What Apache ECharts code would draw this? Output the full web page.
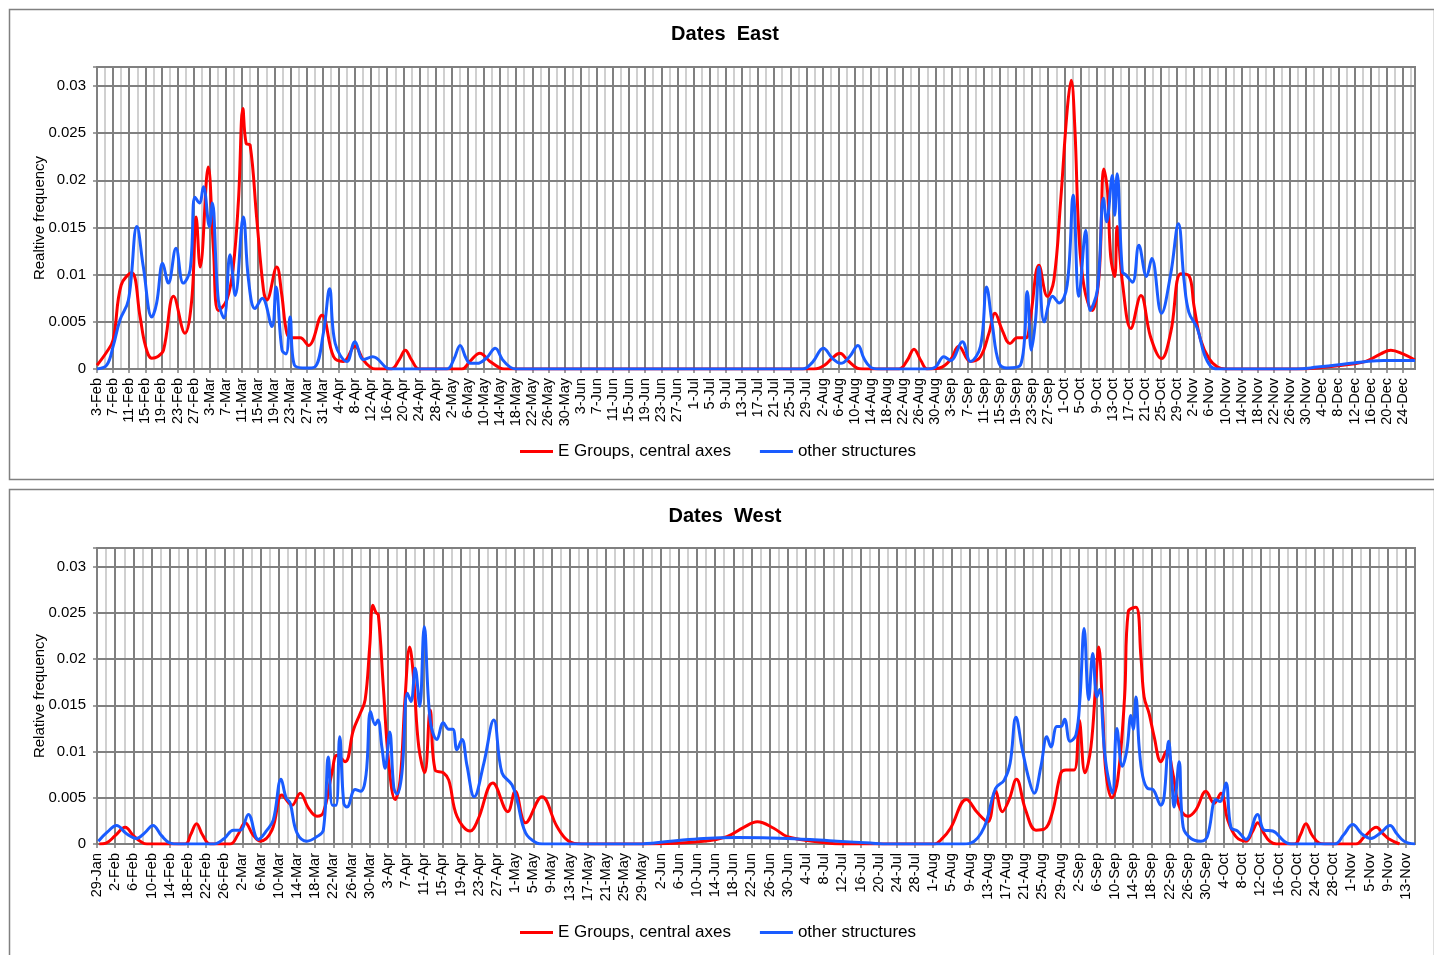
<!DOCTYPE html>
<html>
<head>
<meta charset="utf-8">
<script src="https://cdn.jsdelivr.net/npm/echarts@6/dist/echarts.min.js"></script>
<style>
html,body{margin:0;padding:0;background:#fff;}
#chart{width:1434px;height:955px;}
</style>
</head>
<body>
<div id="chart"></div>
<script>
// ---- Tick labels (every 4 days) ----
const eastTickLabels = ['3-Feb','7-Feb','11-Feb','15-Feb','19-Feb','23-Feb','27-Feb','3-Mar','7-Mar','11-Mar','15-Mar','19-Mar','23-Mar','27-Mar','31-Mar','4-Apr','8-Apr','12-Apr','16-Apr','20-Apr','24-Apr','28-Apr','2-May','6-May','10-May','14-May','18-May','22-May','26-May','30-May','3-Jun','7-Jun','11-Jun','15-Jun','19-Jun','23-Jun','27-Jun','1-Jul','5-Jul','9-Jul','13-Jul','17-Jul','21-Jul','25-Jul','29-Jul','2-Aug','6-Aug','10-Aug','14-Aug','18-Aug','22-Aug','26-Aug','30-Aug','3-Sep','7-Sep','11-Sep','15-Sep','19-Sep','23-Sep','27-Sep','1-Oct','5-Oct','9-Oct','13-Oct','17-Oct','21-Oct','25-Oct','29-Oct','2-Nov','6-Nov','10-Nov','14-Nov','18-Nov','22-Nov','26-Nov','30-Nov','4-Dec','8-Dec','12-Dec','16-Dec','20-Dec','24-Dec'];
const westTickLabels = ['29-Jan','2-Feb','6-Feb','10-Feb','14-Feb','18-Feb','22-Feb','26-Feb','2-Mar','6-Mar','10-Mar','14-Mar','18-Mar','22-Mar','26-Mar','30-Mar','3-Apr','7-Apr','11-Apr','15-Apr','19-Apr','23-Apr','27-Apr','1-May','5-May','9-May','13-May','17-May','21-May','25-May','29-May','2-Jun','6-Jun','10-Jun','14-Jun','18-Jun','22-Jun','26-Jun','30-Jun','4-Jul','8-Jul','12-Jul','16-Jul','20-Jul','24-Jul','28-Jul','1-Aug','5-Aug','9-Aug','13-Aug','17-Aug','21-Aug','25-Aug','29-Aug','2-Sep','6-Sep','10-Sep','14-Sep','18-Sep','22-Sep','26-Sep','30-Sep','4-Oct','8-Oct','12-Oct','16-Oct','20-Oct','24-Oct','28-Oct','1-Nov','5-Nov','9-Nov','13-Nov'];
const eastDayCount = 327;   // days after 3-Feb shown on the axis
const westDayCount = 290;   // days after 29-Jan shown on the axis
const seriesNames = ['E Groups, central axes', 'other structures'];

// ---- Series values: [day offset, relative frequency] ----
const eastGroups = [[0,0.0004],[2.4,0.0018],[4,0.0031],[6,0.0089],[8.6,0.0102],[10.7,0.0055],[12,0.0025],[13.6,0.00115],[15,0.0013],[16.5,0.002],[19,0.0077],[21.8,0.0038],[23.5,0.0073],[24.6,0.0161],[25.6,0.0108],[27.6,0.0214],[28.9,0.0126],[30.1,0.0062],[32.2,0.0073],[33.8,0.0108],[35.1,0.0179],[36.2,0.0276],[37,0.0239],[38,0.0237],[39.6,0.0161],[41.3,0.0084],[42.1,0.0073],[44.6,0.0108],[45.8,0.008],[47.1,0.0038],[48.3,0.0033],[50.4,0.0033],[52.5,0.0025],[55.8,0.0057],[58.7,0.0013],[61.1,0.0008],[64,0.0024],[66,0.001],[67.8,0.0002],[69,0],[73,0],[75,0.001],[76.5,0.002],[78,0.001],[80,0],[90.5,0],[92.5,0.0008],[95,0.00168],[97.5,0.0008],[100,0.0001],[101,0],[178,0],[180.5,0.0004],[182.5,0.0012],[184.3,0.00166],[186.3,0.0009],[188.6,0.0001],[190,0],[199,0],[201,0.0009],[202.7,0.0021],[204.4,0.0009],[206,0],[209,0.0001],[211.8,0.001],[213.8,0.0024],[216.7,0.0008],[219.2,0.0013],[221.3,0.0038],[222.8,0.0059],[224.6,0.0041],[226.5,0.0027],[228.3,0.0033],[230.4,0.0033],[231.6,0.0055],[233.7,0.011],[235.8,0.0077],[237.4,0.0094],[239.1,0.0179],[240.7,0.0274],[241.7,0.0306],[242.6,0.0256],[243.6,0.0144],[244.9,0.0087],[246.9,0.0062],[248.6,0.0098],[249.8,0.0212],[250.7,0.0189],[251.5,0.0119],[252.5,0.0098],[253.1,0.0151],[254.4,0.0092],[256.5,0.0043],[259,0.0078],[261.4,0.0034],[264.1,0.0011],[266.4,0.0039],[268.9,0.0101],[270.9,0.0099],[272.2,0.0066],[273.8,0.0031],[275.9,0.0011],[278,0.0002],[280,0],[298,0],[305,0.0002],[311,0.0005],[314.8,0.0008],[318.5,0.0016],[321,0.002],[324,0.0016],[327,0.00095]];
const eastOther = [[0,0],[2.4,0.0004],[4,0.0024],[5.7,0.0052],[7.8,0.0073],[9.9,0.0151],[11.5,0.0108],[13.6,0.0055],[14.8,0.007],[16.3,0.0112],[17.7,0.0091],[19.6,0.0128],[21.4,0.0091],[23.1,0.0105],[24.3,0.0182],[25.4,0.0176],[26.4,0.0193],[27.9,0.0151],[28.6,0.0176],[30.1,0.0073],[31.5,0.0054],[33,0.0121],[34.3,0.0078],[36.3,0.0161],[37.6,0.0094],[39.2,0.0064],[41,0.0075],[43.4,0.0045],[44.4,0.0087],[45.9,0.002],[46.9,0.0016],[47.9,0.0055],[49,0.0004],[52,0.0001],[54,0.0002],[56.2,0.0039],[57.7,0.0085],[59.1,0.0027],[62,0.0008],[64,0.0029],[66.1,0.001],[68.4,0.0013],[71.9,0.0001],[73,0],[86.8,0],[88.5,0.001],[90.1,0.0025],[91.5,0.0012],[92.6,0.0006],[94.3,0.0006],[96.7,0.0012],[98.8,0.0022],[100.6,0.001],[102.5,0.0002],[104,0],[175,0],[177.5,0.0007],[180.2,0.0022],[182.5,0.0011],[184.5,0.0006],[186.7,0.0013],[188.8,0.0025],[190.3,0.0011],[191.9,0.0002],[194,0],[206,0],[208,0.0002],[210.1,0.0013],[211.8,0.0009],[214.7,0.0029],[216.7,0.0008],[219.2,0.0024],[220.7,0.0087],[222.1,0.0048],[223.8,0.0006],[225.8,0.0001],[229.1,0.0004],[230.8,0.0082],[231.8,0.002],[232.9,0.0054],[233.7,0.0108],[235,0.005],[237.1,0.0077],[238.7,0.007],[240.7,0.0089],[242.2,0.0184],[243.6,0.0077],[245.3,0.0147],[246.4,0.0062],[248.2,0.0084],[249.7,0.0181],[250.5,0.0156],[251.9,0.0205],[252.5,0.0163],[253.1,0.0207],[254.4,0.0103],[255.2,0.01],[256.9,0.0092],[258.5,0.0131],[260.4,0.0098],[261.7,0.0117],[264.1,0.0059],[266.4,0.0101],[268.3,0.0154],[269.7,0.0094],[270.9,0.006],[273,0.0043],[274.7,0.0016],[276.3,0.0003],[278,0],[297.5,0],[302.8,0.0002],[311.1,0.0006],[315,0.0008],[319.3,0.0009],[327,0.0009]];
const westGroups = [[0.5,0],[2,0.0001],[4,0.0009],[6.2,0.0018],[8,0.0009],[9.5,0.0003],[11,0],[19.4,0],[20.6,0.001],[21.9,0.0022],[23.2,0.001],[24.9,0],[29.3,0],[31,0.001],[32.6,0.0023],[34.3,0.001],[35.9,0.0003],[38.5,0.0015],[40.7,0.0053],[42.9,0.0042],[44.7,0.0055],[46.5,0.0039],[48.4,0.003],[49.8,0.0034],[51.7,0.0077],[52.8,0.0096],[54.6,0.0089],[56.4,0.0123],[57.9,0.0141],[59,0.0156],[60,0.0213],[60.7,0.0258],[61.4,0.025],[61.9,0.0248],[63,0.017],[64.2,0.0087],[65.6,0.0048],[66.7,0.0069],[67.8,0.0159],[68.8,0.0213],[69.7,0.0177],[70.8,0.0105],[72.1,0.0077],[73.3,0.0145],[74.4,0.008],[76.2,0.0077],[77.4,0.0069],[79.2,0.003],[82.1,0.0014],[83.8,0.0026],[87.1,0.0066],[90.4,0.0035],[92,0.0057],[94.3,0.0023],[97.9,0.0051],[101.2,0.0019],[103.8,0.0003],[106.7,0],[121,0],[133.5,0.0003],[138.6,0.0008],[142.3,0.0018],[145.3,0.0024],[148.9,0.0017],[151.9,0.0008],[159.2,0.0002],[165,0],[184.2,0],[186,0.0006],[187.8,0.0017],[191.3,0.0048],[193.7,0.0034],[196,0.0024],[197.7,0.0057],[199.2,0.0035],[200.7,0.0048],[202.3,0.007],[204.3,0.0037],[206.6,0.0015],[208.4,0.0016],[210.2,0.0034],[212.1,0.0077],[213.2,0.008],[215,0.008],[216.1,0.0134],[217.4,0.0077],[218.7,0.0105],[219.8,0.0177],[220.4,0.0213],[221.3,0.0141],[222,0.0077],[223.3,0.005],[224.6,0.007],[226.1,0.0159],[226.9,0.0251],[228.6,0.0256],[229.7,0.0202],[230.4,0.0159],[231.5,0.0141],[232.6,0.0116],[234.1,0.0089],[235.4,0.0101],[236.7,0.0077],[238.1,0.0041],[240,0.003],[241.8,0.0037],[244,0.0057],[245.8,0.0044],[247.3,0.0055],[248.8,0.0026],[250.6,0.0008],[252.8,0.0003],[254.2,0.0013],[255.4,0.0023],[256.7,0.0012],[258,0.0003],[259.5,0],[263.5,0],[264.8,0.001],[266,0.0022],[267.3,0.001],[268.9,0.0001],[270,0],[277,0],[278.9,0.0008],[281.5,0.0018],[283,0.0011],[284.1,0.0006],[286.6,0]];
const westOther = [[0.3,0.0003],[2.3,0.0013],[4.3,0.002],[6.5,0.0011],[8.7,0.0006],[10.5,0.0012],[12.3,0.002],[14.2,0.0009],[16.1,0.0001],[18,0],[25.6,0],[28,0.0006],[30,0.0015],[31.5,0.0015],[33.3,0.0032],[35.5,0.0005],[37.4,0.0015],[38.8,0.0026],[40.5,0.007],[41.6,0.005],[42.5,0.0044],[44,0.0012],[46.2,0.0003],[48.4,0.0008],[49.8,0.0015],[50.9,0.0094],[51.8,0.0042],[52.6,0.0042],[53.4,0.0116],[54.3,0.0044],[55,0.004],[56.8,0.0059],[58,0.0057],[59.2,0.0075],[60.2,0.0143],[61.2,0.0129],[61.8,0.0134],[62.7,0.0104],[63.4,0.0082],[64.4,0.0121],[65.3,0.0061],[66,0.0054],[67.1,0.0077],[68.3,0.0163],[69.1,0.0154],[70,0.019],[71,0.0149],[72,0.0235],[73.3,0.0134],[74.8,0.0113],[76.2,0.0131],[77.4,0.0124],[78.3,0.0124],[79.2,0.0102],[80.3,0.0113],[81.4,0.0085],[83,0.0051],[85.1,0.0087],[87.3,0.0134],[89.1,0.0077],[91.3,0.0064],[92.4,0.0048],[94.3,0.0012],[96.8,0.0001],[98,0],[118.9,0],[126.2,0.0003],[133.5,0.0006],[140.9,0.0007],[151.9,0.0006],[162.9,0.0003],[170.2,0.0001],[173,0],[190,0],[192.2,0.0001],[195.2,0.0018],[197.7,0.006],[199.6,0.0069],[200.9,0.0087],[202.2,0.0137],[203.6,0.0102],[205.1,0.0069],[206.2,0.0055],[207.7,0.0084],[209,0.0116],[209.9,0.0105],[211.2,0.0127],[212.1,0.0127],[212.9,0.0135],[214.1,0.0111],[215.4,0.0118],[216.3,0.0159],[217.2,0.0233],[218.2,0.0156],[219.1,0.0206],[220,0.0159],[220.6,0.0167],[221.6,0.0105],[222.3,0.0077],[223.4,0.0055],[224.4,0.0125],[225.6,0.0084],[226.6,0.0102],[227.5,0.0139],[228,0.0124],[228.6,0.0159],[229.3,0.0105],[230.1,0.0073],[231.2,0.006],[232.3,0.0059],[234.1,0.0042],[234.8,0.0051],[235.8,0.0111],[236.5,0.0069],[237,0.004],[238.1,0.0089],[239,0.0018],[240.7,0.0006],[242.9,0.0003],[244.3,0.0008],[246.2,0.0048],[247.1,0.0046],[248.4,0.0066],[249.5,0.0018],[251,0.0014],[252.8,0.0005],[255.4,0.0032],[256.8,0.0015],[258.7,0.0014],[261.2,0.0003],[262.7,0],[272.3,0],[274.3,0.001],[276.3,0.0021],[278.3,0.0011],[280.3,0.0006],[282.4,0.0012],[284.5,0.002],[286,0.0011],[287.6,0.0003],[290,0]];

// ---- Styling ----
const FONT = 'Liberation Sans';
const DARK = '#808080';
const LIGHT = '#c0c0c0';
const RED = '#ff0000';
const BLUE = '#1a5cff';

function xAxesFor(gridIndex, maxDay, labels) {
  return [
    {
      type: 'value', gridIndex: gridIndex, min: 0, max: maxDay, interval: 4, z: 3,
      axisLine: { show: true, onZero: false, lineStyle: { color: DARK, width: 2 } },
      axisTick: { show: true, length: 4, lineStyle: { color: DARK, width: 1.5 } },
      axisLabel: {
        rotate: 90, margin: 9, fontFamily: FONT, fontSize: 14.5, color: '#000',
        showMaxLabel: false,
        formatter: function (v) { const i = Math.round(v / 4); return (v % 4 === 0 && labels[i]) ? labels[i] : ''; }
      },
      splitLine: { show: true, lineStyle: { color: DARK, width: 2 } }
    },
    {
      type: 'value', gridIndex: gridIndex, min: 0, max: maxDay, interval: 2, z: 1,
      position: 'bottom',
      axisLine: { show: false }, axisTick: { show: false }, axisLabel: { show: false },
      splitLine: { show: true, lineStyle: { color: LIGHT, width: 1.5 } }
    }
  ];
}

function yAxisFor(gridIndex, name) {
  return {
    type: 'value', gridIndex: gridIndex, min: 0, max: 0.032, interval: 0.005, z: 2,
    name: name, nameLocation: 'middle', nameGap: 50, nameRotate: 90, nameMoveOverlap: false,
    nameTextStyle: { fontFamily: FONT, fontSize: 15, color: '#000' },
    axisLine: { show: true, lineStyle: { color: DARK, width: 2 } },
    axisTick: { show: true, length: 4, lineStyle: { color: DARK, width: 1.5 } },
    axisLabel: {
      margin: 11, fontFamily: FONT, fontSize: 15, color: '#000',
      formatter: function (v) { return v > 0.0305 ? '' : String(+v.toFixed(3)); }
    },
    splitLine: { show: true, lineStyle: { color: DARK, width: 2 } }
  };
}

function lineSeries(name, data, color, xIdx, yIdx) {
  return {
    name: name, type: 'line', data: data, xAxisIndex: xIdx, yAxisIndex: yIdx,
    smooth: 0.4, showSymbol: false, symbol: 'none', z: 5,
    lineStyle: { color: color, width: 3 }, itemStyle: { color: color },
    emphasis: { disabled: true }
  };
}

const legendBase = {
  data: seriesNames, left: 520, icon: 'rect', itemWidth: 33, itemHeight: 3, itemGap: 29,
  padding: 0, textStyle: { fontFamily: FONT, fontSize: 17, color: '#000' }, selectedMode: false
};

const option = {
  backgroundColor: '#ffffff',
  animation: false,
  title: [
    { text: 'Dates  East', left: 725, top: 24, textAlign: 'center', padding: 0,
      textStyle: { fontFamily: FONT, fontSize: 20, fontWeight: 'bold', color: '#000' } },
    { text: 'Dates  West', left: 725, top: 506, textAlign: 'center', padding: 0,
      textStyle: { fontFamily: FONT, fontSize: 20, fontWeight: 'bold', color: '#000' } }
  ],
  legend: [
    Object.assign({}, legendBase, { top: 443 }),
    Object.assign({}, legendBase, { top: 924 })
  ],
  grid: [
    { left: 97, width: 1318, top: 67, height: 302, show: true, borderColor: DARK, borderWidth: 2, backgroundColor: 'transparent' },
    { left: 97, width: 1318, top: 548, height: 296, show: true, borderColor: DARK, borderWidth: 2, backgroundColor: 'transparent' }
  ],
  xAxis: xAxesFor(0, eastDayCount, eastTickLabels).concat(xAxesFor(1, westDayCount, westTickLabels)),
  yAxis: [yAxisFor(0, 'Realtive frequency'), yAxisFor(1, 'Relative frequency')],
  series: [
    lineSeries(seriesNames[0], eastGroups, RED, 0, 0),
    lineSeries(seriesNames[1], eastOther, BLUE, 0, 0),
    lineSeries(seriesNames[0], westGroups, RED, 2, 1),
    lineSeries(seriesNames[1], westOther, BLUE, 2, 1)
  ],
  graphic: [
    { type: 'rect', left: 7, top: 7, z: -10, silent: true,
      shape: { width: 1425, height: 470 }, style: { fill: 'none', stroke: DARK, lineWidth: 1.5 } },
    { type: 'rect', left: 7, top: 487, z: -10, silent: true,
      shape: { width: 1425, height: 480 }, style: { fill: 'none', stroke: DARK, lineWidth: 1.5 } }
  ]
};

const chart = echarts.init(document.getElementById('chart'), null, { renderer: 'canvas' });
chart.setOption(option);
</script>
</body>
</html>
